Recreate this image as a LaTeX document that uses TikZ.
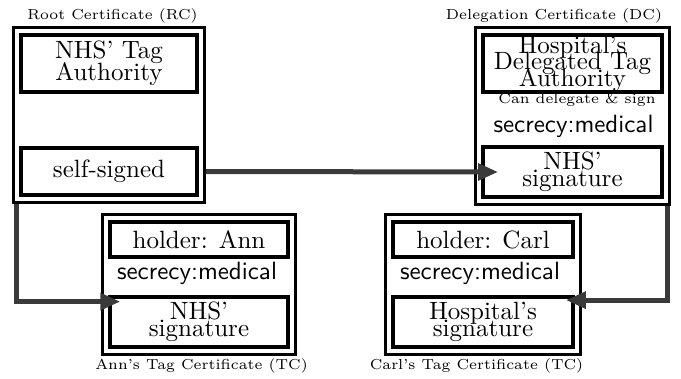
\documentclass[tikz,border=0pt]{standalone}
\usepackage{xcolor}
\usepackage{tikz}
\usetikzlibrary{arrows.meta, positioning, fit}
\definecolor{link_gray}{HTML}{3A3A3A}
\newcommand{\tightlines}[1]{\fontsize{10}{#1}\selectfont\lineskiplimit=-20pt\relax}

\begin{document}
\begin{tikzpicture}[
	x=0.4pt, y=-0.4pt,
	fieldbox/.style = {draw, rectangle, align=center, line width=1.5pt, inner sep=0pt, minimum width=71pt},
	certbox/.style = {draw, rectangle, line width=1.1pt, inner sep=2.2pt},
	certlabel/.style = {font=\fontsize{5.8}{7}\selectfont, inner sep=0pt},
	attr/.style = {font=\sffamily, inner sep=0pt},
	link/.style = {draw=link_gray, line width=2pt, -{Triangle[length=8pt, width=6.5pt]}},
]
\tikzstyle{every node}=[font=\tightlines{6.6}]
\useasboundingbox (0,0) rectangle (681,379);

% Root certificate
\node[fieldbox, minimum width=70.4pt, minimum height=22.8pt, font=\tightlines{8.7}] (rctop) at (109,63.5) {NHS' Tag\\Authority};
\node[fieldbox, minimum width=70.4pt, minimum height=18.8pt] (rcsig) at (109,171.5) {self-signed};
\node[certbox, fit=(rctop)(rcsig)] (rc) {};
\node[certlabel] (rclabel) at (112.5,15.5) {Root Certificate (RC)};

% Delegation certificate
\node[fieldbox, minimum width=71.6pt, minimum height=22.8pt] (dctop) at (572.5,63.5) {Hospital's\\Delegated Tag\\Authority};
\node[certlabel] (dcnote) at (577,100) {Can delegate \& sign};
\node[attr] (dcsecrecy) at (573.5,126) {secrecy:medical};
\node[fieldbox, minimum width=71.6pt, minimum height=20pt] (dcsig) at (572.5,172) {NHS'\\signature};
\node[certbox, fit=(dctop)(dcsig)] (dc) {};
\node[certlabel] (dclabel) at (554,15.5) {Delegation Certificate (DC)};

% Tag certificates
\node[fieldbox, minimum height=14pt] (annholder) at (199,239.5) {holder: Ann};
\node[attr] (annsecrecy) at (197,273) {secrecy:medical};
\node[fieldbox, minimum height=20pt] (annsig) at (199,322) {NHS'\\signature};
\node[certbox, fit=(annholder)(annsig)] (ann) {};
\node[certlabel] (annlabel) at (201.5,366) {Ann's Tag Certificate (TC)};

\node[fieldbox, minimum width=72pt, minimum height=14pt] (carlholder) at (483,239.5) {holder: Carl};
\node[attr] (carlsecrecy) at (480,273) {secrecy:medical};
\node[fieldbox, minimum width=72pt, minimum height=20pt] (carlsig) at (483,322) {Hospital's\\signature};
\node[certbox, fit=(carlholder)(carlsig)] (carl) {};
\node[certlabel] (carllabel) at (476.5,366) {Carl's Tag Certificate (TC)};

% Signing links
\draw[link] (rc.east |- rcsig) -- ([xshift=6.8pt]dcsig.west);
\draw[link] ([xshift=1.8pt]rc.south west) |- ([xshift=4.8pt, yshift=-2.6pt]annsig.north west);
\draw[link] ([xshift=-1.3pt]dc.south east) |- ([xshift=-3.6pt, yshift=-2pt]carlsig.north east);
\end{tikzpicture}
\end{document}
